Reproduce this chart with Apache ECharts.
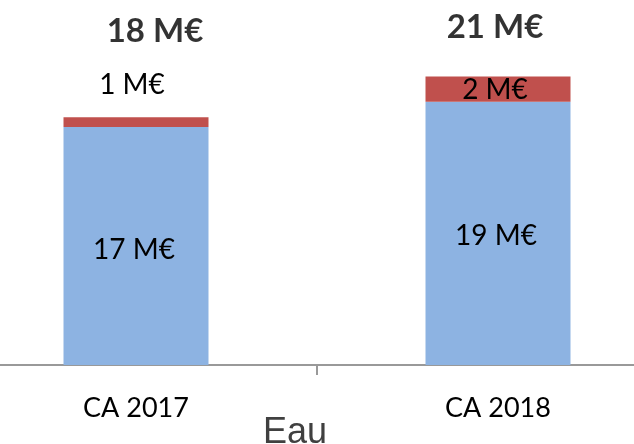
<!DOCTYPE html>
<html>
<head>
<meta charset="utf-8">
<script src="https://cdn.jsdelivr.net/npm/echarts@6/dist/echarts.min.js"></script>
<style>
  html, body { margin: 0; padding: 0; background: #fff; }
  #chart { width: 634px; height: 444px; }
</style>
</head>
<body>
<div id="chart"></div>
<script>
// 数据
var categories = ['CA 2017', 'CA 2018'];
var baseValues = [17.0, 18.8];   // partie bleue
var extraValues = [0.7, 1.8];    // partie rouge
var axisName = 'Eau';

var totals = [];
for (var i = 0; i < categories.length; i++) {
    totals.push(baseValues[i] + extraValues[i]);
}

function fmt(v) {
    return Math.round(v) + ' M€';
}

// décalages des étiquettes (positions seulement)
var baseOffsets = [[-2, 4], [-2, 3]];
var extraOffsets = [[-4, -37], [-3, 1]];
var totalOffsets = [[19, -86], [-3, -49]];

var myChart = echarts.init(document.getElementById('chart'));

var option = {
    animation: false,
    grid: {
        left: -45,
        right: -45,
        top: 15,
        bottom: 79,
        containLabel: false,
        outerBoundsMode: 'none'
    },
    xAxis: {
        type: 'category',
        data: categories,
        name: axisName,
        nameLocation: 'middle',
        nameGap: 50,
        nameMoveOverlap: false,
        nameTextStyle: {
            fontFamily: 'Liberation Sans',
            fontSize: 36,
            color: '#404040',
            padding: [0, 44, 0, 0]
        },
        axisLine: {
            show: true,
            lineStyle: { color: '#999999', width: 2 }
        },
        axisTick: {
            show: true,
            length: 10,
            lineStyle: { color: '#999999', width: 2 }
        },
        axisLabel: {
            margin: 30,
            fontFamily: 'Lato',
            fontSize: 27,
            color: '#000'
        }
    },
    yAxis: {
        type: 'value',
        show: false,
        min: 0,
        max: 25
    },
    series: [{
        name: 'base',
        type: 'bar',
        stack: 'ca',
        barWidth: 145,
        itemStyle: { color: '#8DB3E2' },
        label: {
            show: true,
            position: 'inside',
            fontFamily: 'Lato',
            fontSize: 28,
            color: '#000',
            formatter: function(p) { return fmt(p.value); }
        },
        data: baseValues.map(function(v, i) {
            return { value: v, label: { offset: baseOffsets[i] } };
        })
    }, {
        name: 'extra',
        type: 'bar',
        stack: 'ca',
        barWidth: 145,
        itemStyle: { color: '#C0504D' },
        label: {
            show: true,
            position: 'inside',
            fontFamily: 'Lato',
            fontSize: 28,
            color: '#000',
            formatter: function(p) { return fmt(p.value); }
        },
        data: extraValues.map(function(v, i) {
            return { value: v, label: { offset: extraOffsets[i] } };
        })
    }, {
        name: 'total',
        type: 'scatter',
        symbolSize: 0,
        silent: true,
        label: {
            show: true,
            position: 'inside',
            fontFamily: 'Lato',
            fontWeight: 'bold',
            fontSize: 33,
            color: '#000',
            formatter: function(p) { return fmt(p.value); }
        },
        data: totals.map(function(v, i) {
            return { value: v, label: { offset: totalOffsets[i] } };
        })
    }]
};

myChart.setOption(option);

window.addEventListener('resize', function() {
    myChart.resize();
});
</script>
</body>
</html>
